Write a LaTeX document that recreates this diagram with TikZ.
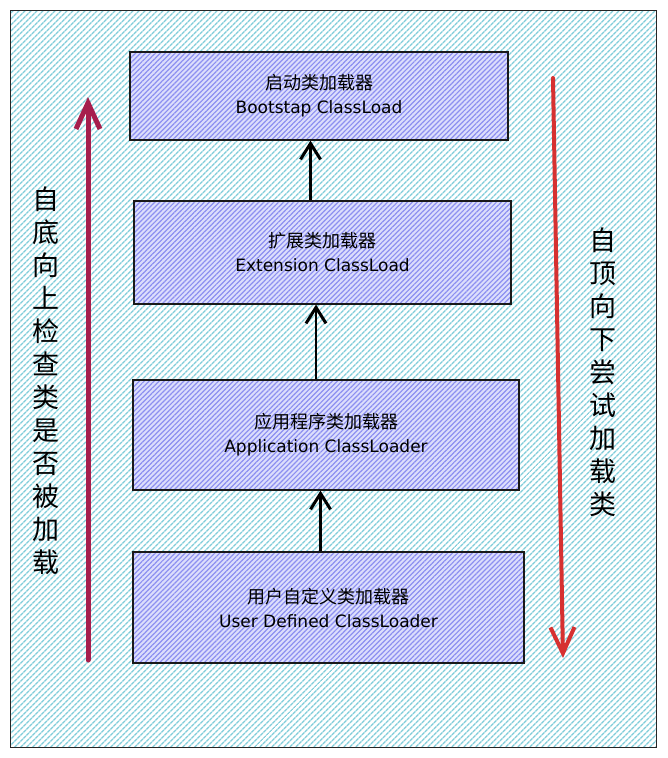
\documentclass[tikz,border=0pt]{standalone}
\usepackage{fontspec}
\setmainfont{Noto Sans CJK SC}
\newfontfamily\latin{DejaVu Sans}
\usetikzlibrary{arrows.meta, patterns.meta}
\definecolor{hatchteal}{HTML}{80CDDA}
\definecolor{hatchblue}{HTML}{8C8FF0}
\definecolor{boxfill}{HTML}{DCDEFC}
\definecolor{upred}{HTML}{A61E4D}
\definecolor{downred}{HTML}{D63131}
\tikzset{
x=1pt, y=-1pt, % one unit is one pixel of the reference, y grows downwards
frame/.style={draw=black!85, line width=1.3pt, preaction={fill=white},
  pattern={Lines[angle=45, distance=4pt, line width=1.4pt]}, pattern color=hatchteal}, % outer sheet
loader/.style={draw=black!90, line width=1.1pt, preaction={fill=boxfill},
  pattern={Lines[angle=45, distance=3.5pt, line width=1.2pt]}, pattern color=hatchblue,
  align=center, font=\fontsize{18}{24}\selectfont}, % one class loader box
pushup/.style={-{Straight Barb[length=16pt, width=20pt, line width=3pt]}, line width=3pt, black}, % arrow between boxes
sidearrow/.style={-{Straight Barb[length=26pt, width=24pt]}, line width=5pt, line cap=round}, % long arrows at the sides
sidetext/.style={align=center, font=\fontsize{27}{33}\selectfont}, % vertical labels
}
\begin{document}
\begin{tikzpicture}
    \useasboundingbox (0,0) rectangle (667,758);
    % sheet
    \node[frame, minimum width=646, minimum height=737, anchor=north west] (sheet) at (10,10) {};
    % loaders
    \node[loader, minimum width=378, minimum height=88] (boot) at (319,96) {启动类加载器\\{\latin\fontsize{17}{24}\selectfont Bootstap ClassLoad}};
    \node[loader, minimum width=377, minimum height=103] (ext) at (322.5,252.5) {扩展类加载器\\{\latin\fontsize{17}{24}\selectfont Extension ClassLoad}};
    \node[loader, minimum width=386, minimum height=110] (app) at (326,435) {应用程序类加载器\\{\latin\fontsize{17}{24}\selectfont Application ClassLoader}};
    \node[loader, minimum width=391, minimum height=111] (user) at (328.5,607.5) {用户自定义类加载器\\{\latin\fontsize{17}{24}\selectfont User Defined ClassLoader}};
    % delegation
    \draw[pushup] ([xshift=-12pt]ext.north) -- ([xshift=-12pt]ext.north |- boot.south);
    \draw[pushup, line width=2.2pt] ([xshift=-10pt]app.north) -- ([xshift=-10pt]app.north |- ext.south);
    \draw[pushup, line width=2.2pt] ([xshift=-8pt]user.north) -- ([xshift=-8pt]user.north |- app.south);
    % side arrows
    \coordinate (upStart) at (88,660);
    \coordinate (upEnd) at (88,97);
    \coordinate (downStart) at (553,78);
    \coordinate (downEnd) at (563,658);
    \draw[sidearrow, upred] (upStart) -- (upEnd);
    \draw[sidearrow, downred, line width=4pt] (downStart) -- (downEnd);
    \node[sidetext] (upText) at (46,381) {自\\底\\向\\上\\检\\查\\类\\是\\否\\被\\加\\载};
    \node[sidetext] (downText) at (603,372) {自\\顶\\向\\下\\尝\\试\\加\\载\\类};
\end{tikzpicture}
\end{document}
